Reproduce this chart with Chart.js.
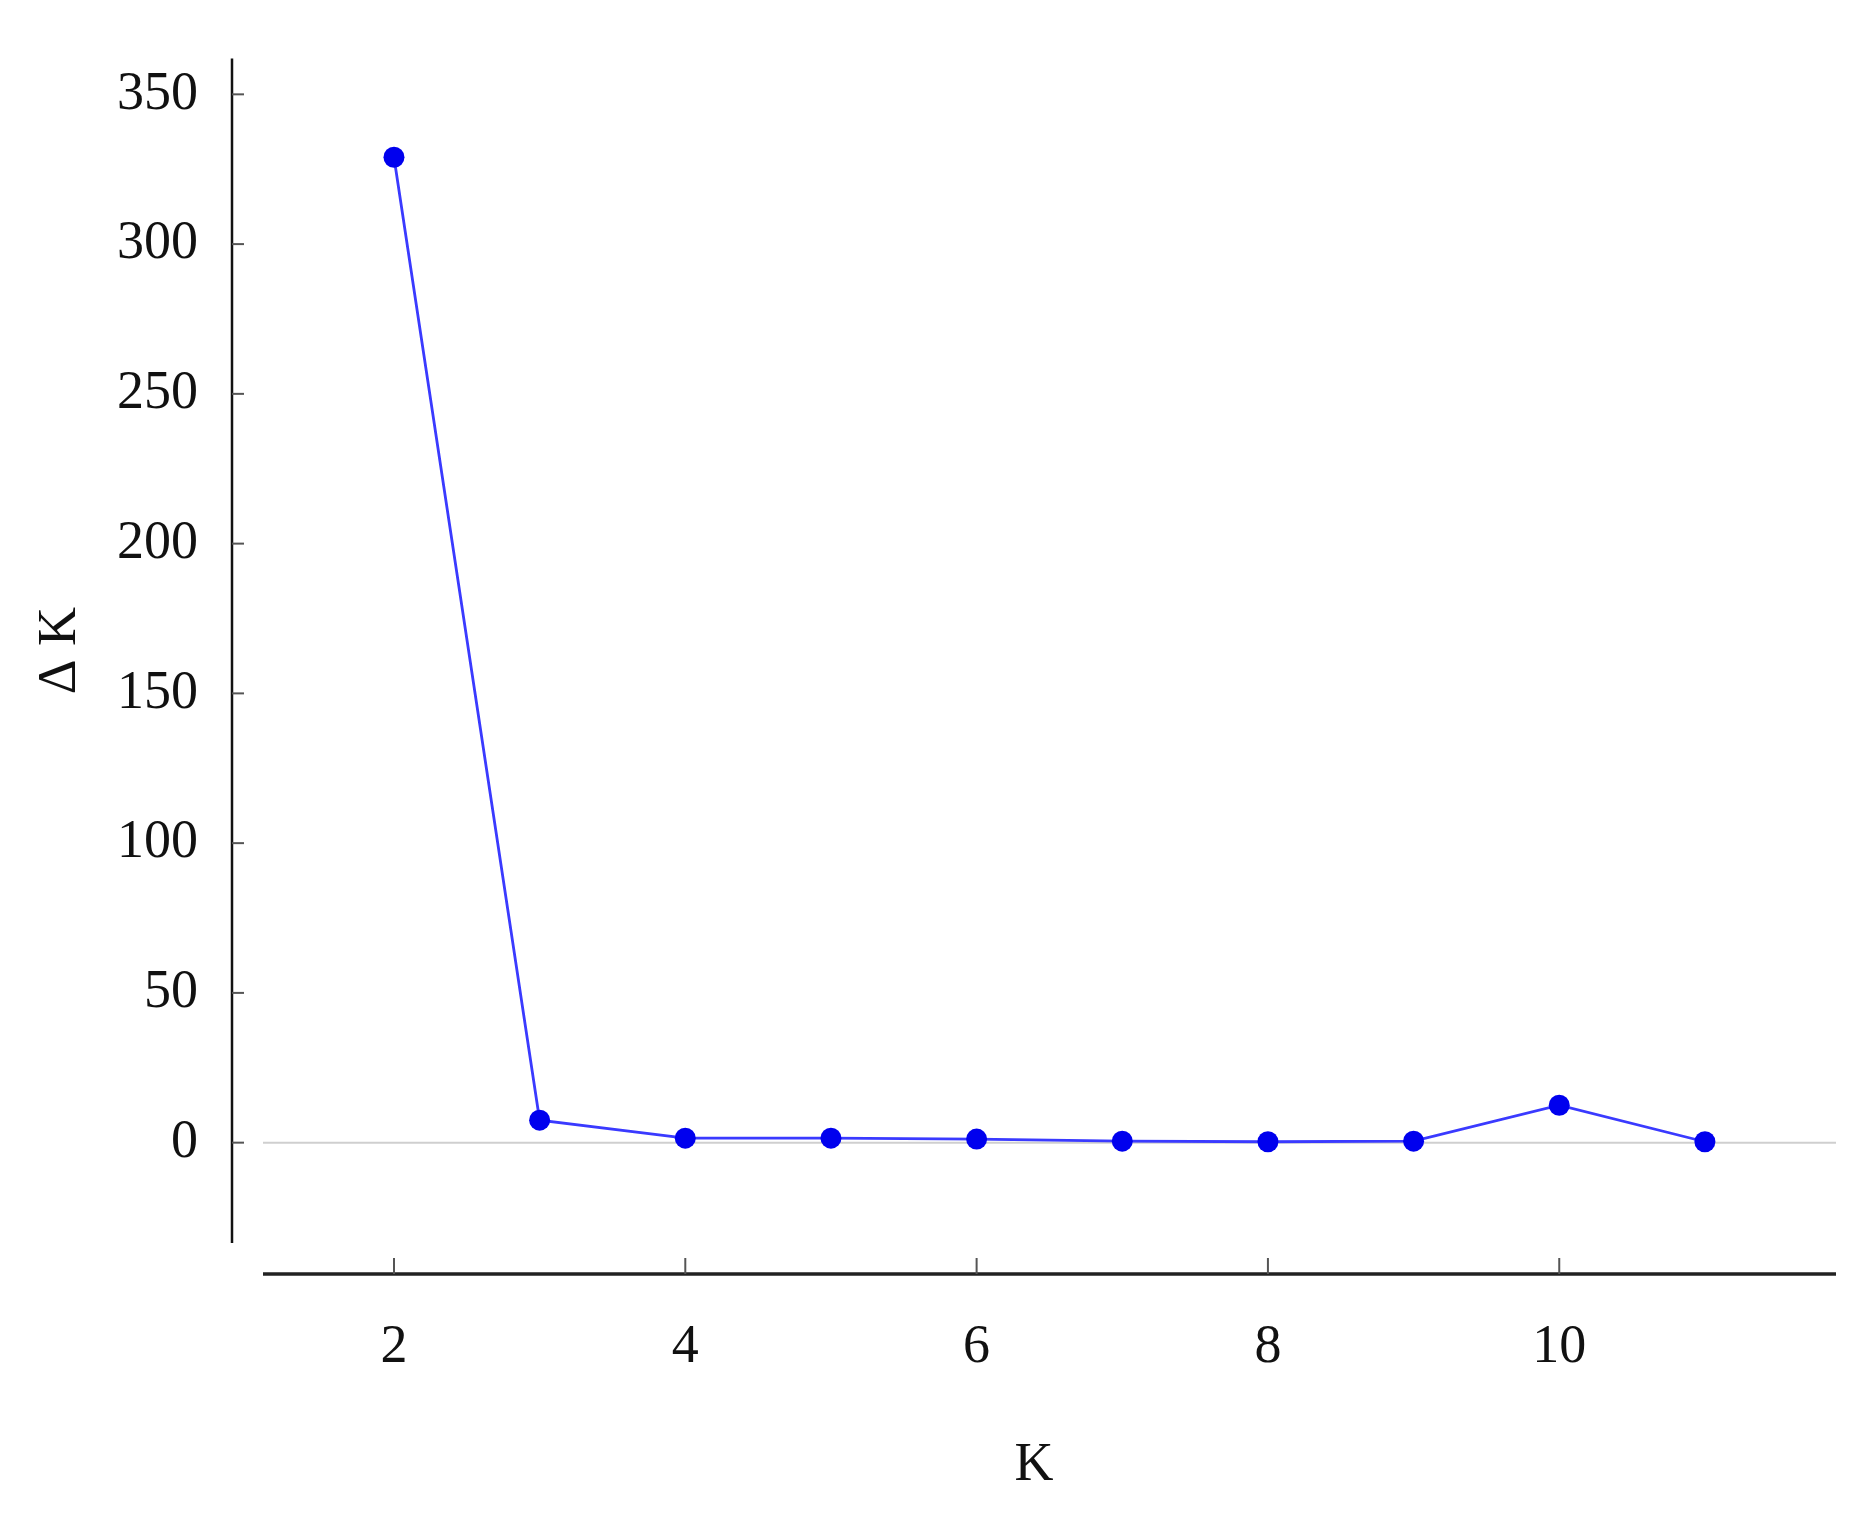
<!DOCTYPE html>
<html>
<head>
<meta charset="UTF-8" />
<title>Delta K</title>
<script src="https://cdn.jsdelivr.net/npm/chart.js"></script>
<style>
  body { margin: 0; background: #fff; }
  #wrap { width: 1850px; height: 1514px; }
</style>
</head>
<body>
<div id="wrap"><canvas id="c" width="1850" height="1514"></canvas></div>
<script>
// values
const kValues = [2, 3, 4, 5, 6, 7, 8, 9, 10, 11];
const deltaK = [329, 7.5, 1.5, 1.5, 1.2, 0.5, 0.3, 0.5, 12.5, 0.3];
const yTicks = [0, 50, 100, 150, 200, 250, 300, 350];
const xTicks = [2, 4, 6, 8, 10];

const font = { family: '"Liberation Serif", "DejaVu Serif", serif', size: 54 };

// axis lines, ticks and zero line drawn like the original (detached x axis, inner ticks)
const axesPlugin = {
  id: 'axes',
  beforeDatasetsDraw(chart) {
    const ctx = chart.ctx, a = chart.chartArea;
    const x = chart.scales.x, y = chart.scales.y;
    const xLeft = 263, xRight = 1836, xLineY = a.bottom + 31;
    ctx.save();
    // zero line
    ctx.strokeStyle = '#cfcfcf';
    ctx.lineWidth = 2;
    ctx.beginPath();
    ctx.moveTo(xLeft, y.getPixelForValue(0));
    ctx.lineTo(xRight, y.getPixelForValue(0));
    ctx.stroke();
    // y axis
    ctx.strokeStyle = '#111';
    ctx.lineWidth = 2.5;
    ctx.beginPath();
    ctx.moveTo(a.left, a.top);
    ctx.lineTo(a.left, a.bottom);
    ctx.stroke();
    ctx.strokeStyle = '#555';
    ctx.lineWidth = 2;
    yTicks.forEach(v => {
      const py = y.getPixelForValue(v);
      ctx.beginPath();
      ctx.moveTo(a.left, py);
      ctx.lineTo(a.left + 12, py);
      ctx.stroke();
    });
    // x axis
    ctx.strokeStyle = '#222';
    ctx.lineWidth = 3.5;
    ctx.beginPath();
    ctx.moveTo(xLeft, xLineY);
    ctx.lineTo(xRight, xLineY);
    ctx.stroke();
    ctx.strokeStyle = '#555';
    ctx.lineWidth = 2;
    xTicks.forEach(v => {
      const px = x.getPixelForValue(v);
      ctx.beginPath();
      ctx.moveTo(px, xLineY);
      ctx.lineTo(px, xLineY - 16);
      ctx.stroke();
    });
    ctx.restore();
  }
};

new Chart(document.getElementById('c').getContext('2d'), {
  type: 'scatter',
  data: {
    datasets: [{
      data: kValues.map((k, i) => ({ x: k, y: deltaK[i] })),
      showLine: true,
      borderColor: '#3a3aff',
      borderWidth: 2.8,
      pointRadius: 10.5,
      pointBackgroundColor: '#0000ee',
      pointBorderColor: '#0000ee',
      pointBorderWidth: 0
    }]
  },
  options: {
    responsive: false,
    animation: false,
    layout: { padding: { top: 0, right: 14, left: 0, bottom: 0 } },
    plugins: { legend: { display: false }, tooltip: { enabled: false } },
    scales: {
      x: {
        type: 'linear',
        min: 0.888,
        max: 11.9,
        afterBuildTicks: s => { s.ticks = xTicks.map(v => ({ value: v })); },
        afterFit: s => { s.height = 271; },
        grid: { display: false },
        border: { display: false },
        ticks: { font, color: '#111', padding: 64, maxRotation: 0 },
        title: { display: true, text: 'K', font, color: '#111', padding: { top: 0, bottom: 16 } }
      },
      y: {
        type: 'linear',
        min: -33.5,
        max: 362,
        afterBuildTicks: s => { s.ticks = yTicks.map(v => ({ value: v })); },
        afterFit: s => { s.width = 232; },
        grid: { display: false },
        border: { display: false },
        ticks: { font, color: '#111', padding: 26 },
        title: { display: true, text: 'Δ K', font, color: '#111', padding: { top: 28, bottom: 0 } }
      }
    }
  },
  plugins: [axesPlugin]
});
</script>
</body>
</html>
